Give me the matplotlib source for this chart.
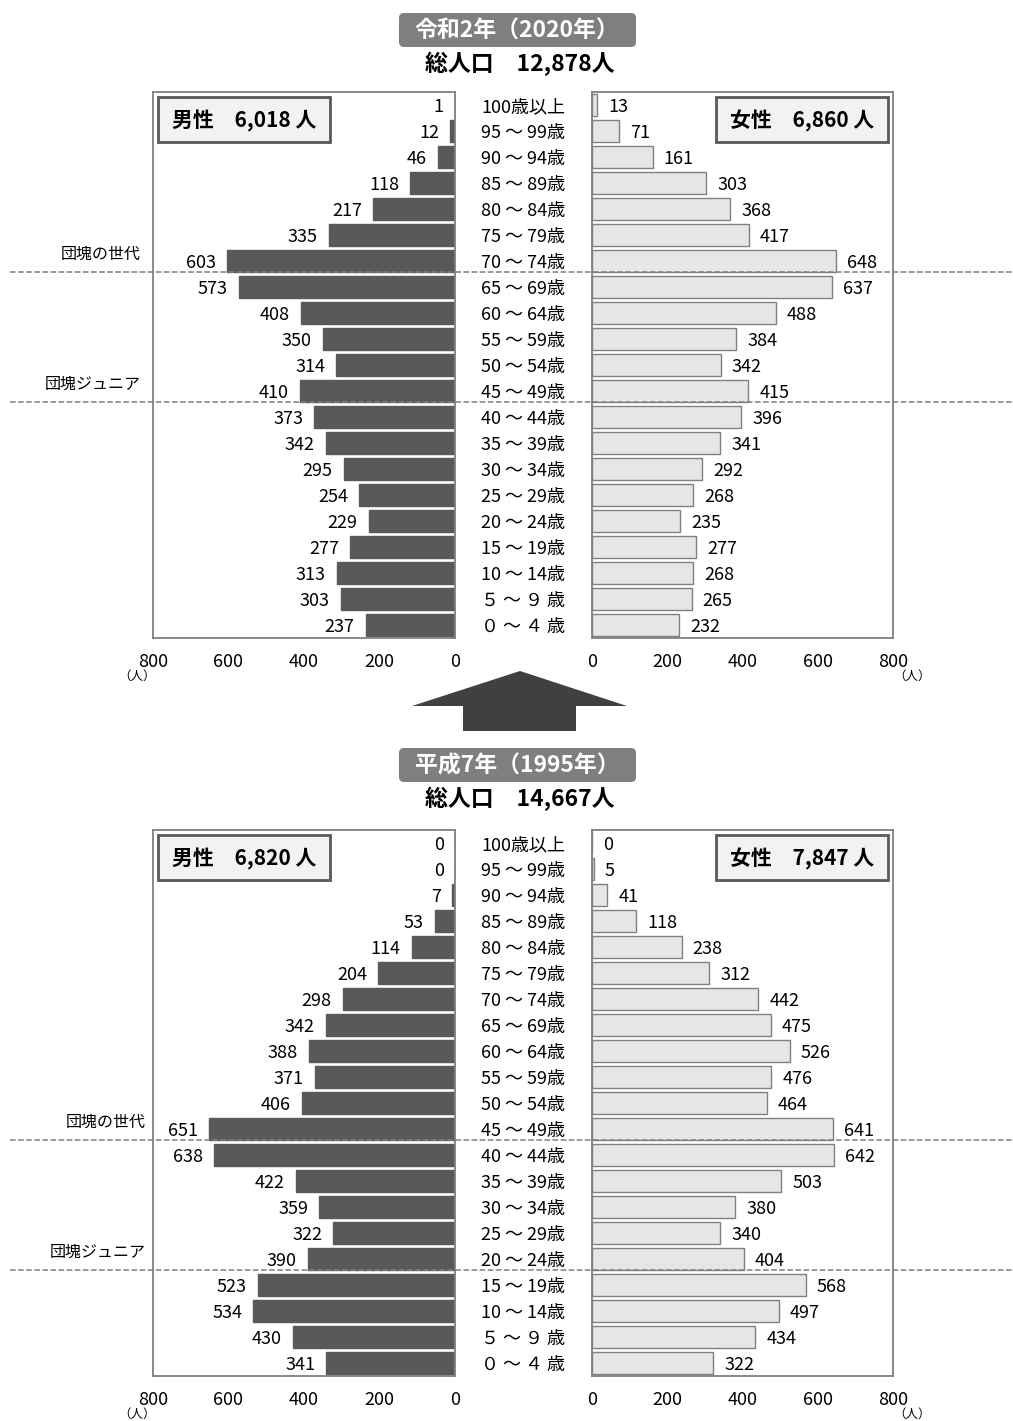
import numpy as np
import matplotlib
matplotlib.use('Agg')
import matplotlib.pyplot as plt
from matplotlib.patches import FancyBboxPatch, Polygon, Rectangle
from matplotlib.lines import Line2D
from matplotlib.transforms import blended_transform_factory

plt.rcParams['font.family'] = ['Noto Sans CJK JP', 'DejaVu Sans']

W, H = 1013, 1421

ages = ["100歳以上", "95 ～ 99歳", "90 ～ 94歳", "85 ～ 89歳", "80 ～ 84歳",
        "75 ～ 79歳", "70 ～ 74歳", "65 ～ 69歳", "60 ～ 64歳", "55 ～ 59歳",
        "50 ～ 54歳", "45 ～ 49歳", "40 ～ 44歳", "35 ～ 39歳", "30 ～ 34歳",
        "25 ～ 29歳", "20 ～ 24歳", "15 ～ 19歳", "10 ～ 14歳", "５ ～ ９ 歳", "０ ～ ４ 歳"]

male_2020 = [1, 12, 46, 118, 217, 335, 603, 573, 408, 350, 314, 410, 373, 342, 295, 254, 229, 277, 313, 303, 237]
female_2020 = [13, 71, 161, 303, 368, 417, 648, 637, 488, 384, 342, 415, 396, 341, 292, 268, 235, 277, 268, 265, 232]
male_1995 = [0, 0, 7, 53, 114, 204, 298, 342, 388, 371, 406, 651, 638, 422, 359, 322, 390, 523, 534, 430, 341]
female_1995 = [0, 5, 41, 118, 238, 312, 442, 475, 526, 476, 464, 641, 642, 503, 380, 340, 404, 568, 497, 434, 322]

title_2020 = "令和2年（2020年）"
total_2020 = "総人口　12,878人"
male_total_2020 = "男性　6,018 人"
female_total_2020 = "女性　6,860 人"
title_1995 = "平成7年（1995年）"
total_1995 = "総人口　14,667人"
male_total_1995 = "男性　6,820 人"
female_total_1995 = "女性　7,847 人"

# rows after which the dashed generation lines are drawn
dankai_2020, junior_2020 = 6, 11
dankai_1995, junior_1995 = 11, 16

fig = plt.figure(figsize=(W / 100, H / 100), dpi=100)
ov = fig.add_axes([0, 0, 1, 1], zorder=5)
ov.set_xlim(0, W)
ov.set_ylim(H, 0)
ov.axis('off')


def px_axes(x0, y0, x1, y1):
    return fig.add_axes([x0 / W, 1 - y1 / H, (x1 - x0) / W, (y1 - y0) / H])


def side(ax, vals, left):
    y = np.arange(len(vals))
    if left:
        ax.barh(y, vals, height=0.85, color='#595959', edgecolor='#595959')
        ax.set_xlim(800, 0)
    else:
        ax.barh(y, vals, height=0.85, color='#e6e6e6', edgecolor='#808080', linewidth=1)
        ax.set_xlim(0, 800)
    ax.set_ylim(len(vals) - 0.5, -0.5)
    for yi, v in zip(y, vals):
        ax.annotate(str(v), (v, yi), xytext=(-8 if left else 8, -1.3), textcoords='offset points',
                    ha='right' if left else 'left', va='center', fontsize=13)
    ax.set_xticks([0, 200, 400, 600, 800])
    ax.set_yticks([])
    ax.tick_params(axis='x', length=0, pad=11, labelsize=13)
    for s in ax.spines.values():
        s.set_color('#7f7f7f')
        s.set_linewidth(1.3)


def panel(top, males, females, title, total, mtot, ftot, dankai, junior, hy, lab_x):
    bot = top + 546
    axL = px_axes(153, top, 455, bot)
    axR = px_axes(592, top, 893, bot)
    side(axL, males, True)
    side(axR, females, False)

    # age labels in the gap
    tr = blended_transform_factory(ov.transData, axL.transData)
    for i, a in enumerate(ages):
        ov.text(523, i + 0.07, a, transform=tr, ha='center', va='center', fontsize=13)

    # legend boxes
    for x0, txt in [(158, mtot), (716, ftot)]:
        ov.add_patch(Rectangle((x0, top + 5), 172, 45, facecolor='#f2f2f2',
                               edgecolor='#595959', linewidth=2))
        ov.text(x0 + 86, top + 29, txt, ha='center', va='center', fontsize=15, fontweight='bold')

    # generation lines
    trf = blended_transform_factory(fig.transFigure, axL.transData)
    for row, lab in [(dankai, "団塊の世代"), (junior, "団塊ジュニア")]:
        fig.add_artist(Line2D([10 / W, 1.0], [row + 0.42, row + 0.42], transform=trf,
                              color='#7f7f7f', linestyle='--', linewidth=1.1, zorder=6))
        ov.text(lab_x, row - 0.25, lab, transform=tr, ha='right', va='center', fontsize=11.5)

    # units
    ov.text(137, bot + 38, "（人）", ha='center', va='center', fontsize=9)
    ov.text(912, bot + 38, "（人）", ha='center', va='center', fontsize=9)

    # header
    ov.add_patch(FancyBboxPatch((399, hy - 17), 237, 34, boxstyle='round,pad=0,rounding_size=5',
                                facecolor='#7f7f7f', edgecolor='none'))
    ov.text(517, hy + 1, title, ha='center', va='center', fontsize=16.5, fontweight='bold', color='white')
    ov.text(520, hy + 34, total, ha='center', va='center', fontsize=16.5, fontweight='bold')


panel(92, male_2020, female_2020, title_2020, total_2020, male_total_2020, female_total_2020,
      dankai_2020, junior_2020, 30, 141)
panel(830, male_1995, female_1995, title_1995, total_1995, male_total_1995, female_total_1995,
      dankai_1995, junior_1995, 765, 146)

# arrow between panels
ov.add_patch(Polygon([(520, 671), (627, 706), (576, 706), (576, 731), (463, 731),
                      (463, 706), (412, 706)], closed=True, facecolor='#404040', edgecolor='none'))

fig.savefig('out.png', dpi=100)
